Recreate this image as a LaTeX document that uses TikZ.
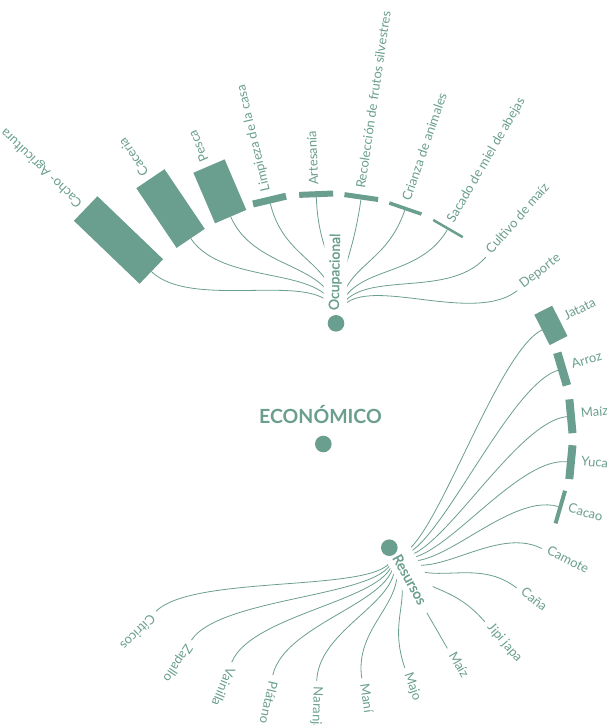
\documentclass[tikz,border=0pt]{standalone}
\usepackage{fontspec}
\setmainfont{Lato}
\newfontfamily\parentfont[FakeBold=1.2]{Lato}
\definecolor{sage}{RGB}{106,158,143}

\begin{document}
\begin{tikzpicture}[x=1pt,y=-1pt,
  link/.style={draw=sage, line width=0.8pt},
  halo/.style={fill=white},
  bar/.style={fill=sage},
  leaflabel/.style={text=sage, font=\fontsize{13}{15}\selectfont, inner sep=0pt, anchor=mid west},
  parentlabel/.style={text=sage, font=\parentfont\fontsize{14}{16}\selectfont, inner sep=0pt, anchor=mid west},
  dotnode/.style={circle, fill=sage, minimum size=16.6pt, inner sep=0pt}]

\useasboundingbox (0,0) rectangle (606,725);
\clip (0,0) rectangle (606,725);

% centre of the radial layout and the two branch nodes
\coordinate (C) at (326,439);
\coordinate (ocup) at (336,323.3);
\coordinate (recur) at (389.3,547.7);

% leaves of "Ocupacional": angle / bar length / label
\def\ocupleaves{0/136.2/91/Cacho- Agricultura, 1/124.0/72/Caceria, 2/113.2/55/Pesca,
  3/103.3/7/Limpieza de la casa, 4/92.3/6/Artesanía, 5/81.7/5/Recolección de frutos silvestres,
  6/71.0/3.5/Crianza de animales, 7/59.9/2.5/Sacado de miel de abejas,
  8/48.7/0/Cultivo de maíz, 9/37.8/0/Deporte}
% leaves of "Resursos"
\def\recurleaves{10/26.8/20/Jatata, 11/16.5/8.5/Arroz, 12/5.3/8/Maíz, 13/-5.4/8/Yuca,
  14/-16.2/4/Cacao, 15/-26.9/0/Camote, 16/-38.0/0/Caña, 17/-49.0/0/Jipi japa,
  18/-59.9/0/Maíz, 19/-71.0/0/Majo, 20/-81.5/0/Maní, 21/-92.2/0/Naranja,
  22/-102.7/0/Plátano, 23/-112.9/0/Vainilla, 24/-123.8/0/Zapallo, 25/-134.6/0/Cítricos}

% leaf anchor points on the outer ring
\foreach \i/\a/\l/\t in \ocupleaves {\coordinate (leaf\i) at ([shift={(-\a:242)}]C);}
\foreach \i/\a/\l/\t in \recurleaves {\coordinate (leaf\i) at ([shift={(-\a:242)}]C);}

% connectors (radial bezier links)
\foreach \i/\a/\l/\t in \ocupleaves {
  \draw[link] (ocup) .. controls ([shift={(-85:179)}]C) and ([shift={(-\a:179)}]C) .. (leaf\i);
}
\foreach \i/\a/\l/\t in \recurleaves {
  \draw[link] (recur) .. controls ([shift={(59.65:184)}]C) and ([shift={(-\a:184)}]C) .. (leaf\i);
}

% white halos behind the branch labels
\begin{scope}[shift={(ocup)}, rotate=89]
  \fill[halo] (-12,-13) rectangle (95,10.5);
\end{scope}
\begin{scope}[shift={(recur)}, rotate=-61]
  \fill[halo] (-12,-19) rectangle (75,9);
\end{scope}

% bars and labels of the leaves
\foreach \i/\a/\l/\t in \ocupleaves {
  \ifdim \l pt>0pt
    \begin{scope}[shift={(leaf\i)}, rotate=\a]
      \fill[bar] (0,-17) rectangle (\l,17);
    \end{scope}
  \fi
  \pgfmathsetmacro\rr{248+\l}
  \node[leaflabel, rotate=\a] (lab\i) at ([shift={(-\a:\rr)}]C) {\t};
}
\foreach \i/\a/\l/\t in \recurleaves {
  \ifdim \l pt>0pt
    \begin{scope}[shift={(leaf\i)}, rotate=\a]
      \fill[bar] (0,-17) rectangle (\l,17);
    \end{scope}
  \fi
  \pgfmathsetmacro\rr{248+\l}
  \node[leaflabel, rotate=\a] (lab\i) at ([shift={(-\a:\rr)}]C) {\t};
}

% branch dots and labels
\node[dotnode] (ocupdot) at (ocup) {};
\node[dotnode] (recurdot) at (recur) {};
\node[parentlabel, rotate=89] (ocuplab) at ([shift={(-89:13)}]ocup) {Ocupacional};
\node[parentlabel, rotate=-61] (recurlab) at ([shift={(61:10)}]recur) {Resursos};

% root
\node[text=sage, font=\bfseries\fontsize{19.5}{22}\selectfont, anchor=base, inner sep=0pt] (econ) at (320.5,423.3) {ECONÓMICO};
\node[dotnode] (root) at (323.3,444) {};
\end{tikzpicture}
\end{document}
